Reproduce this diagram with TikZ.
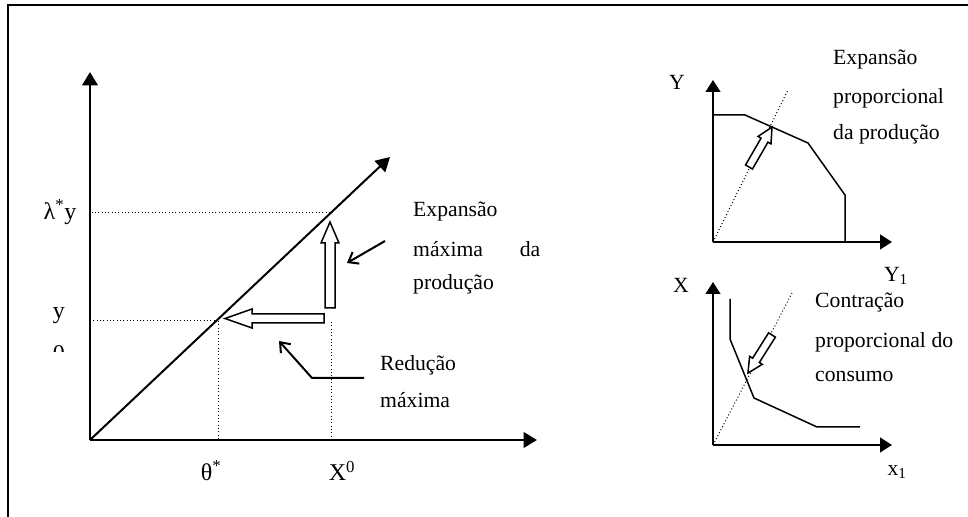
\documentclass[tikz,border=0pt]{standalone}
\usepackage{fontspec}
\setmainfont{Liberation Serif}
\usetikzlibrary{arrows.meta}

\tikzset{
  frame/.style={line width=0.6mm},
  axis/.style={line width=0.8mm, -{Triangle[length=4mm,width=4.6mm]}},
  smallaxis/.style={line width=0.7mm, -{Triangle[length=3.6mm,width=4.4mm]}},
  rayline/.style={line width=0.6mm, -{Triangle[length=4.2mm,width=4.6mm]}},
  guide/.style={line width=0.3mm, dotted},
  frontier/.style={line width=0.45mm},
  hollow/.style={line width=0.45mm, fill=white, line join=miter},
  pointer/.style={line width=0.6mm, -{Straight Barb[length=2.6mm,width=4mm]}},
  txt/.style={inner sep=0pt, anchor=west},
  lbl/.style={inner sep=0pt},
  biglbl/.style={inner sep=0pt, font=\fontsize{20.5}{24}\selectfont}
}

% hollow block arrow: start, angle, length, shaft half width, head half width, head length
\newcommand{\hollowarrow}[6]{%
  \draw[hollow, shift={#1}, rotate=#2]
    (0,-#4) -- (#3-#6,-#4) -- (#3-#6,-#5) -- (#3,0) -- (#3-#6,#5) -- (#3-#6,#4) -- (0,#4) -- cycle;}

\begin{document}
\begin{tikzpicture}[x=0.3mm, y=0.3mm, font=\fontsize{18.5}{22}\selectfont]
		
		\useasboundingbox (0,0) rectangle (968,517);
		
		% Outer frame (top and left only)
		\draw[frame] (8,0) -- (8,512) -- (968,512);
		
		% ---------------- Main diagram ----------------
		\coordinate (O)    at (90,77);    % origin
		\coordinate (Ytop) at (90,445);   % end of vertical axis
		\coordinate (Xend) at (537,77);   % end of horizontal axis
		\coordinate (Ray)  at (390,360);  % end of the ray
		\coordinate (L)    at (330,304);  % lambda* y on the ray
		\coordinate (T)    at (218,196);  % theta* on the ray
		\coordinate (Xup)  at (331,195);  % top of the X^0 guide
		\coordinate (X0)   at (331,77);   % X^0 on the axis
		\coordinate (T0)   at (218,77);   % theta* on the axis
		
		\draw[axis] (O) -- (Ytop);
		\draw[axis] (O) -- (Xend);
		\draw[rayline] (O) -- (Ray);
		
		% Dotted guides
		\draw[guide] (L) -- (L -| O);
		\draw[guide] (T) -- (T -| O);
		\draw[guide] (T) -- (T0);
		\draw[guide] (Xup) -- (X0);
		
		% Axis labels
		\node[biglbl] (lamy) at (60,305) {λ\textsuperscript{*}y};
		\node[biglbl] (ylab) at (59,201) {y};
		\begin{scope}
			\clip (40,165) rectangle (80,180);
			\node[biglbl] (zero) at (59,163) {0};
		\end{scope}
		\node[biglbl] (theta) at (211,46) {θ\textsuperscript{*}};
		\node[biglbl] (xzero) at (342,46) {X\textsuperscript{0}};
		
		% Hollow arrows
		\hollowarrow{(330,209)}{90}{86}{5}{9}{21}
		\hollowarrow{(324,198.5)}{180}{99}{4.5}{9.5}{27}
		
		% Texts and pointers
		\node[txt] (exp1) at (413,305) {Expansão};
		\node[txt] (exp2) at (413,268) {\makebox[38.1mm][s]{máxima\hfill da}};
		\node[txt] (exp3) at (413,233) {produção};
		\node[txt] (red1) at (380,152) {Redução};
		\node[txt] (red2) at (380,117) {máxima};
		
		\coordinate (p1) at (385,276);
		\coordinate (p2) at (347,254);
		\draw[pointer] (p1) -- (p2);
		
		\coordinate (r1) at (364,139);
		\coordinate (r2) at (312,139);
		\coordinate (r3) at (279,176);
		\draw[pointer] (r1) -- (r2) -- (r3);
		
		% ---------------- Output diagram (top right) ----------------
		\coordinate (OA)   at (713,275);
		\coordinate (YA)   at (713,437);
		\coordinate (XA)   at (892,275);
		\coordinate (RA)   at (788,427);
		
		\draw[smallaxis] (OA) -- (YA);
		\draw[smallaxis] (OA) -- (XA);
		\draw[guide] (OA) -- (RA);
		\draw[frontier] (713,402) -- (745,402) -- (808,374) -- (845,322) -- (845,275);
		\hollowarrow{(749,350)}{60}{46}{4}{7.5}{15}
		
		\node[lbl] (ya) at (677,435) {Y};
		\node[lbl] (y1) at (896,241) {Y\textsubscript{1}};
		\node[txt] (ep1) at (833,457) {Expansão};
		\node[txt] (ep2) at (833,419) {proporcional};
		\node[txt] (ep3) at (833,383) {da produção};
		
		% ---------------- Input diagram (bottom right) ----------------
		\coordinate (OB)   at (713,72);
		\coordinate (YB)   at (713,235);
		\coordinate (XB)   at (892,72);
		\coordinate (RB)   at (792,224);
		
		\draw[smallaxis] (OB) -- (YB);
		\draw[smallaxis] (OB) -- (XB);
		\draw[guide] (OB) -- (RB);
		\draw[frontier] (730,218) -- (730,178) -- (754,119) -- (817,90) -- (860,90);
		\hollowarrow{(772,182)}{237.7}{45}{4}{7.5}{15}
		
		\node[lbl] (xb) at (681,232) {X};
		\node[lbl] (x1) at (897,45) {x\textsubscript{1}};
		\node[txt] (ct1) at (815,214) {Contração};
		\node[txt] (ct2) at (815,175) {\makebox[41.4mm][s]{proporcional\hfill do}};
		\node[txt] (ct3) at (815,140) {consumo};
		
	\end{tikzpicture}
\end{document}
